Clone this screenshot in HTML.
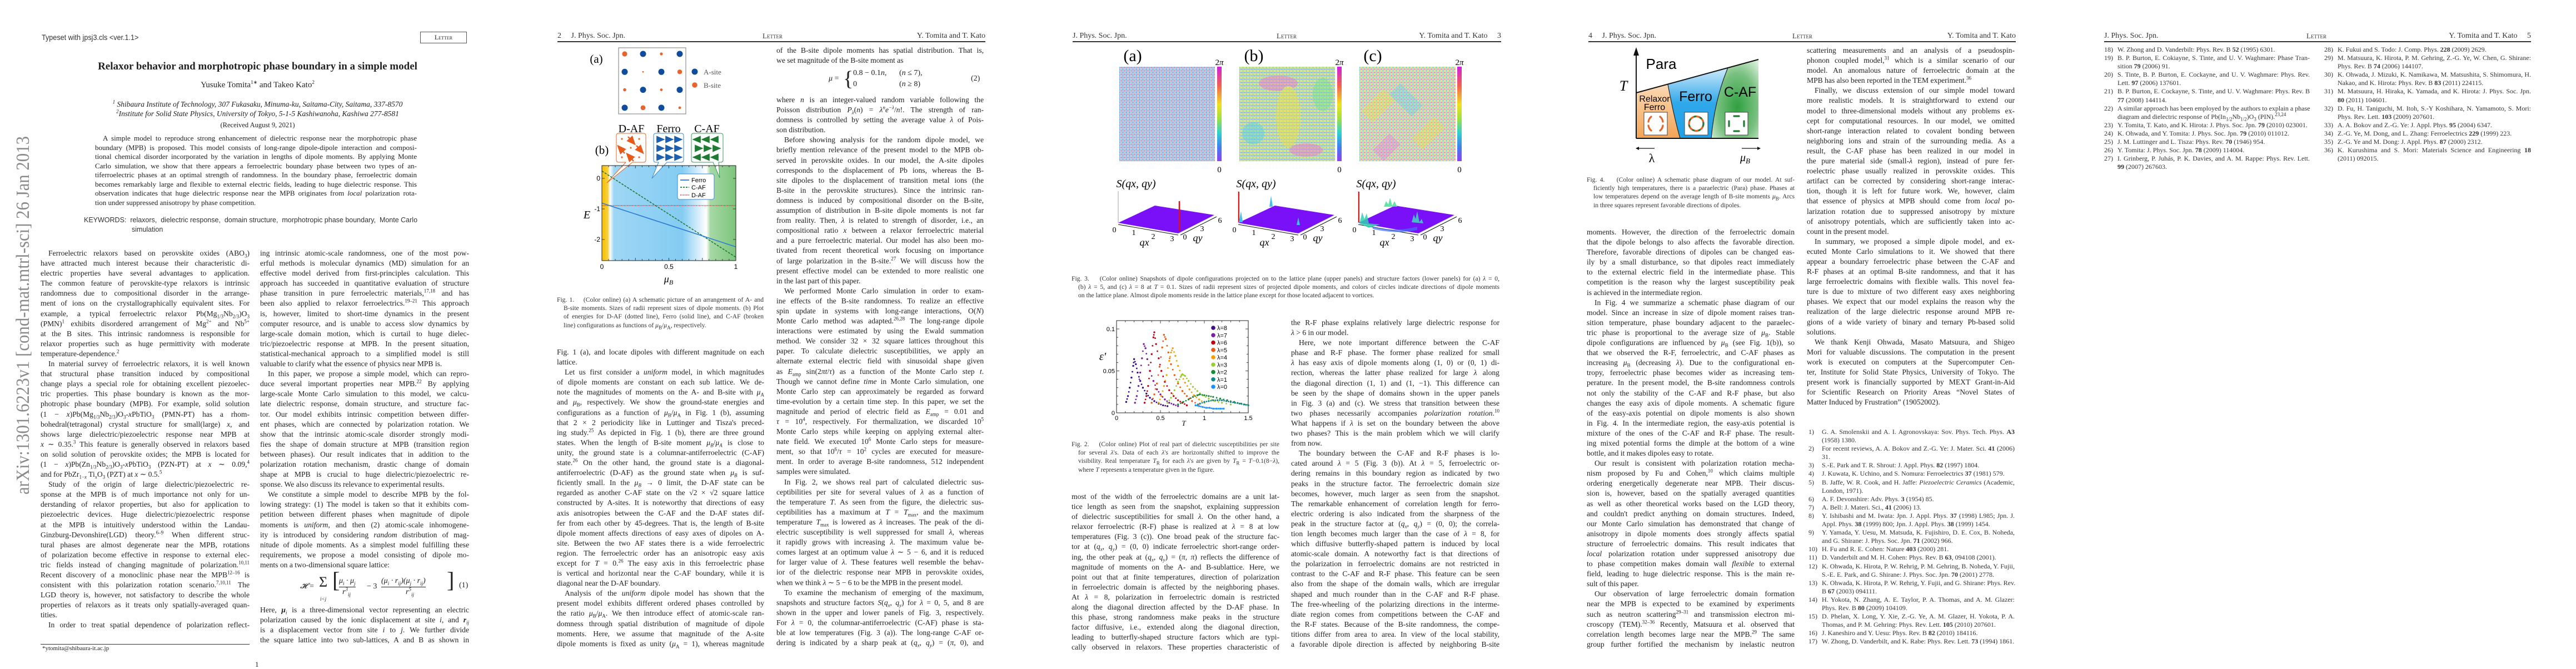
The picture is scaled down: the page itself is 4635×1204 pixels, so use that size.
<!DOCTYPE html>
<html><head><meta charset="utf-8">
<style>
html,body{margin:0;padding:0;background:#fff}
body{width:4635px;height:1200px;position:relative;overflow:hidden;font-family:"Liberation Serif",serif;color:#222}
.a{position:absolute;white-space:nowrap}
.col{position:absolute;font-family:"Liberation Serif",serif;font-size:13.6px;line-height:18.1px;color:#222}
.col>div{white-space:nowrap;text-align:justify;text-align-last:justify;height:18.1px}
.col>div.e{text-align-last:left}
.col>div.i{text-indent:14px}
.cap{position:absolute;font-family:"Liberation Serif",serif;font-size:11.6px;line-height:15.2px;color:#333}
.cap>div{white-space:nowrap;text-align:justify;text-align-last:justify;height:15.2px}
.cap>div.e{text-align-last:left}
.cap>div.h{padding-left:12px}
.ref{position:absolute;font-family:"Liberation Serif",serif;font-size:12px;line-height:15.1px;color:#333}
.ref>div{white-space:nowrap;position:relative;height:15.1px;text-align:justify;text-align-last:justify}
.ref>div.e{text-align-last:left}
.ref span.n{position:absolute;left:-24px;width:20px;text-align:right}
.hd{position:absolute;font-size:14px;top:57px;white-space:nowrap;color:#333}
.rule{position:absolute;height:1.5px;background:#333;top:74px}
sup,sub{font-size:9px;line-height:0}
b{font-weight:bold}
</style></head>
<body>

<svg class="a" style="left:0;top:0" width="80" height="1200">
<text x="0" y="0" transform="translate(52,890) rotate(-90)" textLength="645" lengthAdjust="spacingAndGlyphs" font-family="Liberation Serif" font-size="34" fill="#8a8a8a">arXiv:1301.6223v1  [cond-mat.mtrl-sci]  26 Jan 2013</text>
</svg>

<!-- PAGE 1 -->
<div class="a" style="left:75px;top:59px;font-family:'Liberation Sans',sans-serif;font-size:14px;color:#333;transform:scaleX(0.9);transform-origin:left">Typeset with jpsj3.cls &lt;ver.1.1&gt;</div>
<div class="a" style="left:756px;top:57px;width:82px;height:19px;border:1px solid #555;font-size:12px;text-align:center;line-height:19px;font-variant:small-caps">Letter</div>
<div class="a" style="left:0;width:927px;top:109px;text-align:center;font-weight:bold;font-size:19px">Relaxor behavior and morphotropic phase boundary in a simple model</div>
<div class="a" style="left:0;width:927px;top:145px;text-align:center;font-size:15px">Yusuke Tomita<sup>1</sup><sup>∗</sup> and Takeo Kato<sup>2</sup></div>
<div class="a" style="left:0;width:927px;top:180px;text-align:center;font-size:13.5px;font-style:italic"><sup>1</sup> Shibaura Institute of Technology, 307 Fukasaku, Minuma-ku, Saitama-City, Saitama, 337-8570</div>
<div class="a" style="left:0;width:927px;top:197px;text-align:center;font-size:13.5px;font-style:italic"><sup>2</sup>Institute for Solid State Physics, University of Tokyo, 5-1-5 Kashiwanoha, Kashiwa 277-8581</div>
<div class="a" style="left:0;width:927px;top:218px;text-align:center;font-size:12.5px">(Received August 9, 2021)</div>
<div class="col" style="left:171px;top:241px;width:579px;font-size:13px;line-height:16.5px">
<div class="i" style="height:16.5px">A simple model to reproduce strong enhancement of dielectric response near the morphotropic phase</div>
<div style="height:16.5px">boundary (MPB) is proposed. This model consists of long-range dipole-dipole interaction and composi-</div>
<div style="height:16.5px">tional chemical disorder incorporated by the variation in lengths of dipole moments. By applying Monte</div>
<div style="height:16.5px">Carlo simulation, we show that there appears a ferroelectric boundary phase between two types of an-</div>
<div style="height:16.5px">tiferroelectric phases at an optimal strength of randomness. In the boundary phase, ferroelectric domain</div>
<div style="height:16.5px">becomes remarkably large and flexible to external electric fields, leading to huge dielectric response. This</div>
<div style="height:16.5px">observation indicates that huge dielectric response near the MPB originates from <i>local</i> polarization rota-</div>
<div class="e" style="height:16.5px">tion under suppressed anisotropy by phase competition.</div>
</div>
<div class="a" style="left:151px;top:388px;font-family:'Liberation Sans',sans-serif;font-size:12.5px;color:#333;line-height:17px">KEYWORDS:&nbsp; relaxors,&nbsp; dielectric response,&nbsp; domain structure,&nbsp; morphotropic phase boundary,&nbsp; Monte Carlo<br><span style="padding-left:86px">simulation</span></div>

<div class="col" style="left:73px;top:447px;width:376px">
<div class="i">Ferroelectric relaxors based on perovskite oxides (ABO<sub>3</sub>)</div>
<div>have attracted much interest because their characteristic di-</div>
<div>electric properties have several advantages to application.</div>
<div>The common feature of perovskite-type relaxors is intrinsic</div>
<div>randomness due to compositional disorder in the arrange-</div>
<div>ment of ions on the crystallographically equivalent sites. For</div>
<div>example, a typical ferroelectric relaxor Pb(Mg<sub>1/3</sub>Nb<sub>2/3</sub>)O<sub>3</sub></div>
<div>(PMN)<sup>1</sup> exhibits disordered arrangement of Mg<sup>2+</sup> and Nb<sup>5+</sup></div>
<div>at the B sites. This intrinsic randomness is responsible for</div>
<div>relaxor properties such as huge permittivity with moderate</div>
<div class="e">temperature-dependence.<sup>2</sup></div>
<div class="i">In material survey of ferroelectric relaxors, it is well known</div>
<div>that structural phase transition induced by compositional</div>
<div>change plays a special role for obtaining excellent piezoelec-</div>
<div>tric properties. This phase boundary is known as the mor-</div>
<div>photropic phase boundary (MPB). For example, solid solution</div>
<div>(1 − <i>x</i>)Pb(Mg<sub>1/3</sub>Nb<sub>2/3</sub>)O<sub>3</sub>-<i>x</i>PbTiO<sub>3</sub> (PMN-PT) has a rhom-</div>
<div>bohedral(tetragonal) crystal structure for small(large) <i>x</i>, and</div>
<div>shows large dielectric/piezoelectric response near MPB at</div>
<div><i>x</i> ∼ 0.35.<sup>3</sup> This feature is generally observed in relaxors based</div>
<div>on solid solution of perovskite oxides; the MPB is located for</div>
<div>(1 − <i>x</i>)Pb(Zn<sub>1/3</sub>Nb<sub>2/3</sub>)O<sub>3</sub>-<i>x</i>PbTiO<sub>3</sub> (PZN-PT) at <i>x</i> ∼ 0.09,<sup>4</sup></div>
<div class="e">and for PbZr<sub>1−<i>x</i></sub> Ti<sub><i>x</i></sub>O<sub>3</sub> (PZT) at <i>x</i> ∼ 0.5.<sup>5</sup></div>
<div class="i">Study of the origin of large dielectric/piezoelectric re-</div>
<div>sponse at the MPB is of much importance not only for un-</div>
<div>derstanding of relaxor properties, but also for application to</div>
<div>piezoelectric devices. Huge dielectric/piezoelectric response</div>
<div>at the MPB is intuitively understood within the Landau-</div>
<div>Ginzburg-Devonshire(LGD) theory.<sup>6–9</sup> When different struc-</div>
<div>tural phases are almost degenerate near the MPB, rotations</div>
<div>of polarization become effective in response to external elec-</div>
<div>tric fields instead of changing magnitude of polarization.<sup>10,11</sup></div>
<div>Recent discovery of a monoclinic phase near the MPB<sup>12–16</sup> is</div>
<div>consistent with this polarization rotation scenario.<sup>7,10,11</sup> The</div>
<div>LGD theory is, however, not satisfactory to describe the whole</div>
<div>properties of relaxors as it treats only spatially-averaged quan-</div>
<div class="e">tities.</div>
<div class="i">In order to treat spatial dependence of polarization reflect-</div>
</div>
<div class="col" style="left:468px;top:447px;width:376px">
<div>ing intrinsic atomic-scale randomness, one of the most pow-</div>
<div>erful methods is molecular dynamics (MD) simulation for an</div>
<div>effective model derived from first-principles calculation. This</div>
<div>approach has succeeded in quantitative evaluation of structure</div>
<div>phase transition in pure ferroelectric materials,<sup>17,18</sup> and has</div>
<div>been also applied to relaxor ferroelectrics.<sup>19–21</sup> This approach</div>
<div>is, however, limited to short-time dynamics in the present</div>
<div>computer resource, and is unable to access slow dynamics by</div>
<div>large-scale domain motion, which is curtail to huge dielec-</div>
<div>tric/piezoelectric response at MPB. In the present situation,</div>
<div>statistical-mechanical approach to a simplified model is still</div>
<div class="e">valuable to clarify what the essence of physics near MPB is.</div>
<div class="i">In this paper, we propose a simple model, which can repro-</div>
<div>duce several important properties near MPB.<sup>22</sup> By applying</div>
<div>large-scale Monte Carlo simulation to this model, we calcu-</div>
<div>late dielectric response, domain structure, and structure fac-</div>
<div>tor. Our model exhibits intrinsic competition between differ-</div>
<div>ent phases, which are connected by polarization rotation. We</div>
<div>show that the intrinsic atomic-scale disorder strongly modi-</div>
<div>fies the shape of domain structure at MPB (transition region</div>
<div>between phases). Our result indicates that in addition to the</div>
<div>polarization rotation mechanism, drastic change of domain</div>
<div>shape at MPB is crucial to huge dielectric/piezoelectric re-</div>
<div class="e">sponse. We also discuss its relevance to experimental results.</div>
<div class="i">We constitute a simple model to describe MPB by the fol-</div>
<div>lowing strategy: (1) The model is taken so that it exhibits com-</div>
<div>petition between different phases when magnitude of dipole</div>
<div>moments is <i>uniform</i>, and then (2) atomic-scale inhomogene-</div>
<div>ity is introduced by considering <i>random</i> distribution of mag-</div>
<div>nitude of dipole moments. As a simplest model fulfilling these</div>
<div>requirements, we propose a model consisting of dipole mo-</div>
<div class="e">ments on a two-dimensional square lattice:</div>
</div>
<div class="a" style="left:540px;top:1036px;font-size:14px;font-style:italic;line-height:20px">
<span style="position:absolute;left:0;top:10px">𝓗 = </span>
<span style="position:absolute;left:34px;top:2px;font-size:26px;font-style:normal">Σ</span>
<span style="position:absolute;left:36px;top:32px;font-size:9px">i&lt;j</span>
<span style="position:absolute;left:58px;top:-2px;font-size:40px;font-style:normal;font-weight:100">[</span>
<span style="position:absolute;left:70px;top:0;border-bottom:1px solid #222">μ<sub>i</sub> · μ<sub>j</sub></span>
<span style="position:absolute;left:76px;top:20px">r<sup>3</sup><sub>ij</sub></span>
<span style="position:absolute;left:120px;top:10px;font-style:normal">− 3</span>
<span style="position:absolute;left:146px;top:0;border-bottom:1px solid #222">(μ<sub>i</sub> · r<sub>ij</sub>)(μ<sub>j</sub> · r<sub>ij</sub>)</span>
<span style="position:absolute;left:190px;top:20px">r<sup>5</sup><sub>ij</sub></span>
<span style="position:absolute;left:264px;top:-2px;font-size:40px;font-style:normal;font-weight:100">]</span>
</div>
<div class="a" style="left:826px;top:1046px;font-size:14px">(1)</div>
<div class="col" style="left:468px;top:1089px;width:376px">
<div>Here, <b><i>μ</i></b><sub><i>i</i></sub> is a three-dimensional vector representing an electric</div>
<div>polarization caused by the ionic displacement at site <i>i</i>, and <b><i>r</i></b><sub><i>ij</i></sub></div>
<div>is a displacement vector from site <i>i</i> to <i>j</i>. We further divide</div>
<div>the square lattice into two sub-lattices, A and B as shown in</div>
</div>
<div class="a" style="left:73px;top:1159px;width:376px;height:1px;background:#333"></div>
<div class="a" style="left:76px;top:1161px;font-size:11px">*ytomita@shibaura-it.ac.jp</div>
<div class="a" style="left:459px;top:1188px;font-size:13px">1</div>

<!-- PAGE 2 -->
<div class="hd" style="left:1003px">2&nbsp;&nbsp;&nbsp;&nbsp;&nbsp;J. Phys. Soc. Jpn.</div>
<div class="hd" style="left:1350px;width:80px;text-align:center;font-variant:small-caps;font-size:13px">Letter</div>
<div class="hd" style="left:1573px;width:200px;text-align:right">Y. Tomita and T. Kato</div>
<div class="rule" style="left:1003px;width:770px"></div>

<div class="col" style="left:1397px;top:82px;width:373px">
<div>of the B-site dipole moments has spatial distribution. That is,</div>
<div class="e">we set magnitude of the B-site moment as</div>
</div>
<div class="a" style="left:1491px;top:124px;font-size:14px;width:280px;height:40px">
<span style="position:absolute;left:0;top:10px"><i>μ</i> =</span>
<span style="position:absolute;left:26px;top:-4px;font-size:38px;font-weight:100">{</span>
<span style="position:absolute;left:44px;top:0">0.8 − 0.1<i>n</i>,</span>
<span style="position:absolute;left:127px;top:0">(<i>n</i> ≤ 7),</span>
<span style="position:absolute;left:44px;top:20px">0</span>
<span style="position:absolute;left:127px;top:20px">(<i>n</i> ≥ 8)</span>
<span style="position:absolute;left:256px;top:10px">(2)</span>
</div>
<div class="col" style="left:1397px;top:171px;width:373px">
<div>where <i>n</i> is an integer-valued random variable following the</div>
<div>Poisson distribution <i>P<sub>λ</sub></i>(<i>n</i>) = <i>λ<sup>n</sup>e<sup>−λ</sup></i>/<i>n</i>!. The strength of ran-</div>
<div>domness is controlled by setting the average value <i>λ</i> of Pois-</div>
<div class="e">son distribution.</div>
<div class="i">Before showing analysis for the random dipole model, we</div>
<div>briefly mention relevance of the present model to the MPB ob-</div>
<div>served in perovskite oxides. In our model, the A-site dipoles</div>
<div>corresponds to the displacement of Pb ions, whereas the B-</div>
<div>site dipoles to the displacement of transition metal ions (the</div>
<div>B-site in the perovskite structures). Since the intrinsic ran-</div>
<div>domness is induced by compositional disorder on the B-site,</div>
<div>assumption of distribution in B-site dipole moments is not far</div>
<div>from reality. Then, <i>λ</i> is related to strength of disorder, i.e., an</div>
<div>compositional ratio <i>x</i> between a relaxor ferroelectric material</div>
<div>and a pure ferroelectric material. Our model has also been mo-</div>
<div>tivated from recent theoretical work focusing on importance</div>
<div>of large polarization in the B-site.<sup>27</sup> We will discuss how the</div>
<div>present effective model can be extended to more realistic one</div>
<div class="e">in the last part of this paper.</div>
<div class="i">We performed Monte Carlo simulation in order to exam-</div>
<div>ine effects of the B-site randomness. To realize an effective</div>
<div>spin update in systems with long-range interactions, O(<i>N</i>)</div>
<div>Monte Carlo method was adapted.<sup>26,28</sup> The long-range dipole</div>
<div>interactions were estimated by using the Ewald summation</div>
<div>method. We consider 32 × 32 square lattices throughout this</div>
<div>paper. To calculate dielectric susceptibilities, we apply an</div>
<div>alternate external electric field with sinusoidal shape given</div>
<div>as <i>E</i><sub>amp</sub> sin(2<i>πt</i>/<i>τ</i>) as a function of the Monte Carlo step <i>t</i>.</div>
<div>Though we cannot define <i>time</i> in Monte Carlo simulation, one</div>
<div>Monte Carlo step can approximately be regarded as forward</div>
<div>time-evolution by a certain time step. In this paper, we set the</div>
<div>magnitude and period of electric field as <i>E</i><sub>amp</sub> = 0.01 and</div>
<div><i>τ</i> = 10<sup>4</sup>, respectively. For thermalization, we discarded 10<sup>5</sup></div>
<div>Monte Carlo steps while keeping on applying external alter-</div>
<div>nate field. We executed 10<sup>6</sup> Monte Carlo steps for measure-</div>
<div>ment, so that 10<sup>6</sup>/<i>τ</i> = 10<sup>2</sup> cycles are executed for measure-</div>
<div>ment. In order to average B-site randomness, 512 independent</div>
<div class="e">samples were simulated.</div>
<div class="i">In Fig. 2, we shows real part of calculated dielectric sus-</div>
<div>ceptibilities per site for several values of <i>λ</i> as a function of</div>
<div>the temperature <i>T</i>. As seen from the figure, the dielectric sus-</div>
<div>ceptibilities has a maximum at <i>T</i> = <i>T</i><sub>max</sub>, and the maximum</div>
<div>temperature <i>T</i><sub>max</sub> is lowered as <i>λ</i> increases. The peak of the di-</div>
<div>electric susceptibility is well suppressed for small <i>λ</i>, whereas</div>
<div>it rapidly grows with increasing <i>λ</i>. The maximum value be-</div>
<div>comes largest at an optimum value <i>λ</i> ∼ 5 − 6, and it is reduced</div>
<div>for larger value of <i>λ</i>. These features well resemble the behav-</div>
<div>ior of the dielectric response near MPB in perovskite oxides,</div>
<div class="e">when we think <i>λ</i> ∼ 5 − 6 to be the MPB in the present model.</div>
<div class="i">To examine the mechanism of emerging of the maximum,</div>
<div>snapshots and structure factors <i>S</i>(<i>q<sub>x</sub></i>, <i>q<sub>y</sub></i>) for <i>λ</i> = 0, 5, and 8 are</div>
<div>shown in the upper and lower panels of Fig. 3, respectively.</div>
<div>For <i>λ</i> = 0, the columnar-antiferroelectric (C-AF) phase is sta-</div>
<div>ble at low temperatures (Fig. 3 (a)). The long-range C-AF or-</div>
<div>dering is indicated by a sharp peak at (<i>q<sub>x</sub></i>, <i>q<sub>y</sub></i>) = (<i>π</i>, 0), and</div>
</div>

<div class="cap" style="left:1002px;top:532px;width:372px">
<div>Fig. 1.&nbsp;&nbsp;&nbsp; (Color online) (a) A schematic picture of an arrangement of A- and</div>
<div class="h">B-site moments. Sizes of radii represent sizes of dipole moments. (b) Plot</div>
<div class="h">of energies for D-AF (dotted line), Ferro (solid line), and C-AF (broken</div>
<div class="h e">line) configurations as functions of <i>μ</i><sub>B</sub>/<i>μ</i><sub>A</sub>, respectively.</div>
</div>
<div class="col" style="left:1002px;top:625px;width:373px">
<div>Fig. 1 (a), and locate dipoles with different magnitude on each</div>
<div class="e">lattice.</div>
<div class="i">Let us first consider a <i>uniform</i> model, in which magnitudes</div>
<div>of dipole moments are constant on each sub lattice. We de-</div>
<div>note the magnitudes of moments on the A- and B-site with <i>μ</i><sub>A</sub></div>
<div>and <i>μ</i><sub>B</sub>, respectively. We show the ground-state energies and</div>
<div>configurations as a function of <i>μ</i><sub>B</sub>/<i>μ</i><sub>A</sub> in Fig. 1 (b), assuming</div>
<div>that 2 × 2 periodicity like in Luttinger and Tisza's preced-</div>
<div>ing study.<sup>25</sup> As depicted in Fig. 1 (b), there are three ground</div>
<div>states. When the length of B-site moment <i>μ<sub>B</sub></i>/<i>μ<sub>A</sub></i> is close to</div>
<div>unity, the ground state is a columnar-antiferroelectric (C-AF)</div>
<div>state.<sup>26</sup> On the other hand, the ground state is a diagonal-</div>
<div>antiferroelectric (D-AF) as the ground state when <i>μ<sub>B</sub></i> is suf-</div>
<div>ficiently small. In the <i>μ<sub>B</sub></i> → 0 limit, the D-AF state can be</div>
<div>regarded as another C-AF state on the √2 × √2 square lattice</div>
<div>constructed by A-sites. It is noteworthy that directions of easy</div>
<div>axis anisotropies between the C-AF and the D-AF states dif-</div>
<div>fer from each other by 45-degrees. That is, the length of B-site</div>
<div>dipole moment affects directions of easy axes of dipoles on A-</div>
<div>site. Between the two AF states there is a wide ferroelectric</div>
<div>region. The ferroelectric order has an anisotropic easy axis</div>
<div>except for <i>T</i> = 0.<sup>26</sup> The easy axis in this ferroelectric phase</div>
<div>is vertical and horizontal near the C-AF boundary, while it is</div>
<div class="e">diagonal near the D-AF boundary.</div>
<div class="i">Analysis of the <i>uniform</i> dipole model has shown that the</div>
<div>present model exhibits different ordered phases controlled by</div>
<div>the ratio <i>μ</i><sub>B</sub>/<i>μ</i><sub>A</sub>. We then introduce effect of atomic-scale ran-</div>
<div>domness through spatial distribution of magnitude of dipole</div>
<div>moments. Here, we assume that magnitude of the A-site</div>
<div>dipole moments is fixed as unity (<i>μ</i><sub>A</sub> = 1), whereas magnitude</div>
</div>

<!-- PAGE 3 -->
<div class="hd" style="left:1930px">J. Phys. Soc. Jpn.</div>
<div class="hd" style="left:2275px;width:80px;text-align:center;font-variant:small-caps;font-size:13px">Letter</div>
<div class="hd" style="left:2469px;width:232px;text-align:right">Y. Tomita and T. Kato&nbsp;&nbsp;&nbsp;&nbsp;&nbsp;3</div>
<div class="rule" style="left:1930px;width:771px"></div>

<div class="cap" style="left:1928px;top:494px;width:770px">
<div>Fig. 3.&nbsp;&nbsp;&nbsp; (Color online) Snapshots of dipole configurations projected on to the lattice plane (upper panels) and structure factors (lower panels) for (a) <i>λ</i> = 0,</div>
<div class="h">(b) <i>λ</i> = 5, and (c) <i>λ</i> = 8 at <i>T</i> = 0.1. Sizes of radii represent sizes of projected dipole moments, and colors of circles indicate directions of dipole moments</div>
<div class="h e">on the lattice plane. Almost dipole moments reside in the lattice plane except for those located adjacent to vortices.</div>
</div>
<div class="cap" style="left:1928px;top:792px;width:374px">
<div>Fig. 2.&nbsp;&nbsp;&nbsp; (Color online) Plot of real part of dielectric susceptibilities per site</div>
<div class="h">for several <i>λ</i>'s. Data of each <i>λ</i>'s are horizontally shifted to improve the</div>
<div class="h">visibility. Real temperature <i>T</i><sub>R</sub> for each <i>λ</i>'s are given by <i>T</i><sub>R</sub> = <i>T</i>−0.1(8−<i>λ</i>),</div>
<div class="h e">where <i>T</i> represents a temperature given in the figure.</div>
</div>
<div class="col" style="left:1928px;top:885px;width:374px">
<div>most of the width of the ferroelectric domains are a unit lat-</div>
<div>tice length as seen from the snapshot, explaining suppression</div>
<div>of dielectric susceptibilities for small <i>λ</i>. On the other hand, a</div>
<div>relaxor ferroelectric (R-F) phase is realized at <i>λ</i> = 8 at low</div>
<div>temperatures (Fig. 3 (c)). One broad peak of the structure fac-</div>
<div>tor at (<i>q<sub>x</sub></i>, <i>q<sub>y</sub></i>) = (0, 0) indicate ferroelectric short-range order-</div>
<div>ing, the other peak at (<i>q<sub>x</sub></i>, <i>q<sub>y</sub></i>) = (<i>π</i>, <i>π</i>) reflects the difference of</div>
<div>magnitude of moments on the A- and B-sublattice. Here, we</div>
<div>point out that at finite temperatures, direction of polarization</div>
<div>in ferroelectric domain is affected by the neighboring phases.</div>
<div>At <i>λ</i> = 8, polarization in ferroelectric domain is restricted</div>
<div>along the diagonal direction affected by the D-AF phase. In</div>
<div>this phase, strong randomness make peaks in the structure</div>
<div>factor diffusive, i.e., extended along the diagonal direction,</div>
<div>leading to butterfly-shaped structure factors which are typi-</div>
<div>cally observed in relaxors. These properties characteristic of</div>
</div>
<div class="col" style="left:2323px;top:572px;width:375px">
<div>the R-F phase explains relatively large dielectric response for</div>
<div class="e"><i>λ</i> &gt; 6 in our model.</div>
<div class="i">Here, we note important difference between the C-AF</div>
<div>phase and R-F phase. The former phase realized for small</div>
<div><i>λ</i> has easy axis of dipole moments along (1, 0) or (0, 1) di-</div>
<div>rection, whereas the latter phase realized for large <i>λ</i> along</div>
<div>the diagonal direction (1, 1) and (1, −1). This difference can</div>
<div>be seen by the shape of domains shown in the upper panels</div>
<div>in Fig. 3 (a) and (c). We stress that transition between these</div>
<div>two phases necessarily accompanies <i>polarization rotation</i>.<sup>10</sup></div>
<div>What happens if <i>λ</i> is set on the boundary between the above</div>
<div>two phases? This is the main problem which we will clarify</div>
<div class="e">from now.</div>
<div class="i">The boundary between the C-AF and R-F phases is lo-</div>
<div>cated around <i>λ</i> = 5 (Fig. 3 (b)). At <i>λ</i> = 5, ferroelectric or-</div>
<div>dering remains in this boundary region as indicated by two</div>
<div>peaks in the structure factor. The ferroelectric domain size</div>
<div>becomes, however, much larger as seen from the snapshot.</div>
<div>The remarkable enhancement of correlation length for ferro-</div>
<div>electric ordering is also indicated from the sharpness of the</div>
<div>peak in the structure factor at (<i>q<sub>x</sub></i>, <i>q<sub>y</sub></i>) = (0, 0); the correla-</div>
<div>tion length becomes much larger than the case of <i>λ</i> = 8, for</div>
<div>which diffusive butterfly-shaped pattern is induced by local</div>
<div>atomic-scale domain. A noteworthy fact is that directions of</div>
<div>the polarization in ferroelectric domains are not restricted in</div>
<div>contrast to the C-AF and R-F phase. This feature can be seen</div>
<div>also from the shape of the domain walls, which are irregular</div>
<div>shaped and much rounder than in the C-AF and R-F phase.</div>
<div>The free-wheeling of the polarizing directions in the interme-</div>
<div>diate region comes from competitions between the C-AF and</div>
<div>the R-F states. Because of the B-site randomness, the compe-</div>
<div>titions differ from area to area. In view of the local stability,</div>
<div>a favorable dipole direction is affected by neighboring B-site</div>
</div>

<!-- PAGE 4 -->
<div class="hd" style="left:2858px">4&nbsp;&nbsp;&nbsp;&nbsp;&nbsp;J. Phys. Soc. Jpn.</div>
<div class="hd" style="left:3203px;width:80px;text-align:center;font-variant:small-caps;font-size:13px">Letter</div>
<div class="hd" style="left:3427px;width:200px;text-align:right">Y. Tomita and T. Kato</div>
<div class="rule" style="left:2858px;width:769px"></div>

<div class="cap" style="left:2855px;top:316px;width:374px">
<div>Fig. 4.&nbsp;&nbsp;&nbsp; (Color online) A schematic phase diagram of our model. At suf-</div>
<div class="h">ficiently high temperatures, there is a paraelectric (Para) phase. Phases at</div>
<div class="h">low temperatures depend on the average length of B-site moments <i>μ</i><sub>B</sub>. Arcs</div>
<div class="h e">in three squares represent favorable directions of dipoles.</div>
</div>
<div class="col" style="left:2855px;top:409px;width:374px">
<div>moments. However, the direction of the ferroelectric domain</div>
<div>that the dipole belongs to also affects the favorable direction.</div>
<div>Therefore, favorable directions of dipoles can be changed eas-</div>
<div>ily by a small disturbance, so that dipoles react immediately</div>
<div>to the external electric field in the intermediate phase. This</div>
<div>competition is the reason why the largest susceptibility peak</div>
<div class="e">is achieved in the intermediate region.</div>
<div class="i">In Fig. 4 we summarize a schematic phase diagram of our</div>
<div>model. Since an increase in size of dipole moment raises tran-</div>
<div>sition temperature, phase boundary adjacent to the paraelec-</div>
<div>tric phase is proportional to the average size of <i>μ</i><sub>B</sub>. Stable</div>
<div>dipole configurations are influenced by <i>μ</i><sub>B</sub> (see Fig. 1(b)), so</div>
<div>that we observed the R-F, ferroelectric, and C-AF phases as</div>
<div>increasing <i>μ</i><sub>B</sub> (decreasing <i>λ</i>). Due to the configurational en-</div>
<div>tropy, ferroelectric phase becomes wider as increasing tem-</div>
<div>perature. In the present model, the B-site randomness controls</div>
<div>not only the stability of the C-AF and R-F phase, but also</div>
<div>changes the easy axis of dipole moments. A schematic figure</div>
<div>of the easy-axis potential on dipole moments is also shown</div>
<div>in Fig. 4. In the intermediate region, the easy-axis potential is</div>
<div>mixture of the ones of the C-AF and R-F phase. The result-</div>
<div>ing mixed potential forms the dimple at the bottom of a wine</div>
<div class="e">bottle, and it makes dipoles easy to rotate.</div>
<div class="i">Our result is consistent with polarization rotation mecha-</div>
<div>nism proposed by Fu and Cohen,<sup>10</sup> which claims multiple</div>
<div>ordering energetically degenerate near MPB. Their discus-</div>
<div>sion is, however, based on the spatially averaged quantities</div>
<div>as well as other theoretical works based on the LGD theory,</div>
<div>and couldn't predict anything on domain structures. Indeed,</div>
<div>our Monte Carlo simulation has demonstrated that change of</div>
<div>anisotropy in dipole moments does strongly affects spatial</div>
<div>structure of ferroelectric domains. This result indicates that</div>
<div><i>local</i> polarization rotation under suppressed anisotropy due</div>
<div>to phase competition makes domain wall <i>flexible</i> to external</div>
<div>field, leading to huge dielectric response. This is the main re-</div>
<div class="e">sult of this paper.</div>
<div class="i">Our observation of large ferroelectric domain formation</div>
<div>near the MPB is expected to be examined by experiments</div>
<div>such as neutron scattering<sup>29–31</sup> and transmission electron mi-</div>
<div>croscopy (TEM).<sup>32–36</sup> Recently, Matsuura et al. observed that</div>
<div>correlation length becomes large near the MPB.<sup>29</sup> The same</div>
<div>group further fortified the mechanism by inelastic neutron</div>
</div>
<div class="col" style="left:3251px;top:82px;width:374px">
<div>scattering measurements and an analysis of a pseudospin-</div>
<div>phonon coupled model,<sup>31</sup> which is a similar scenario of our</div>
<div>model. An anomalous nature of ferroelectric domain at the</div>
<div class="e">MPB has also been reported in the TEM experiment.<sup>36</sup></div>
<div class="i">Finally, we discuss extension of our simple model toward</div>
<div>more realistic models. It is straightforward to extend our</div>
<div>model to three-dimensional models without any problems ex-</div>
<div>cept for computational resources. In our model, we omitted</div>
<div>short-range interaction related to covalent bonding between</div>
<div>neighboring ions and strain of the surrounding media. As a</div>
<div>result, the C-AF phase has been realized in our model in</div>
<div>the pure material side (small-<i>λ</i> region), instead of pure fer-</div>
<div>roelectric phase usually realized in perovskite oxides. This</div>
<div>artifact can be corrected by considering short-range interac-</div>
<div>tion, though it is left for future work. We, however, claim</div>
<div>that essence of physics at MPB should come from <i>local</i> po-</div>
<div>larization rotation due to suppressed anisotropy by mixture</div>
<div>of anisotropy potentials, which are sufficiently taken into ac-</div>
<div class="e">count in the present model.</div>
<div class="i">In summary, we proposed a simple dipole model, and ex-</div>
<div>ecuted Monte Carlo simulations to it. We showed that there</div>
<div>appear a boundary ferroelectric phase between the C-AF and</div>
<div>R-F phases at an optimal B-site randomness, and that it has</div>
<div>large ferroelectric domains with flexible walls. This novel fea-</div>
<div>ture is due to mixture of two different easy axes neighboring</div>
<div>phases. We expect that our model explains the reason why the</div>
<div>realization of the large dielectric response around MPB re-</div>
<div>gions of a wide variety of binary and ternary Pb-based solid</div>
<div class="e">solutions.</div>
<div class="i">We thank Kenji Ohwada, Masato Matsuura, and Shigeo</div>
<div>Mori for valuable discussions. The computation in the present</div>
<div>work is executed on computers at the Supercomputer Cen-</div>
<div>ter, Institute for Solid State Physics, University of Tokyo. The</div>
<div>present work is financially supported by MEXT Grant-in-Aid</div>
<div>for Scientific Research on Priority Areas “Novel States of</div>
<div class="e">Matter Induced by Frustration” (19052002).</div>
</div>
<div class="ref" style="left:3278px;top:770px;width:347px">
<div><span class="n">1)</span>G. A. Smolenskii and A. I. Agronovskaya: Sov. Phys. Tech. Phys. <b>A3</b></div>
<div class="e">(1958) 1380.</div>
<div><span class="n">2)</span>For recent reviews, A. A. Bokov and Z.-G. Ye: J. Mater. Sci. <b>41</b> (2006)</div>
<div class="e">31.</div>
<div class="e"><span class="n">3)</span>S.-E. Park and T. R. Shrout: J. Appl. Phys. <b>82</b> (1997) 1804.</div>
<div class="e"><span class="n">4)</span>J. Kuwata, K. Uchino, and S. Nomura: Ferroelectrics <b>37</b> (1981) 579.</div>
<div><span class="n">5)</span>B. Jaffe, W. R. Cook, and H. Jaffe: <i>Piezoelectric Ceramics</i> (Academic,</div>
<div class="e">London, 1971).</div>
<div class="e"><span class="n">6)</span>A. F. Devonshire: Adv. Phys. <b>3</b> (1954) 85.</div>
<div class="e"><span class="n">7)</span>A. Bell: J. Materi. Sci., <b>41</b> (2006) 13.</div>
<div><span class="n">8)</span>Y. Ishibashi and M. Iwata: Jpn. J. Appl. Phys. <b>37</b> (1998) L985; Jpn. J.</div>
<div class="e">Appl. Phys. <b>38</b> (1999) 800; Jpn. J. Appl. Phys. <b>38</b> (1999) 1454.</div>
<div><span class="n">9)</span>Y. Yamada, Y. Uesu, M. Matsuda, K. Fujishiro, D. E. Cox, B. Noheda,</div>
<div class="e">and G. Shirane: J. Phys. Soc. Jpn. <b>71</b> (2002) 966.</div>
<div class="e"><span class="n">10)</span>H. Fu and R. E. Cohen: Nature <b>403</b> (2000) 281.</div>
<div class="e"><span class="n">11)</span>D. Vanderbilt and M. H. Cohen: Phys. Rev. B <b>63</b>, 094108 (2001).</div>
<div><span class="n">12)</span>K. Ohwada, K. Hirota, P. W. Rehrig, P. M. Gehring, B. Noheda, Y. Fujii,</div>
<div class="e">S.-E. E. Park, and G. Shirane: J. Phys. Soc. Jpn. <b>70</b> (2001) 2778.</div>
<div><span class="n">13)</span>K. Ohwada, K. Hirota, P. W. Rehrig, Y. Fujii, and G. Shirane: Phys. Rev.</div>
<div class="e">B <b>67</b> (2003) 094111.</div>
<div><span class="n">14)</span>H. Yokota, N. Zhang, A. E. Taylor, P. A. Thomas, and A. M. Glazer:</div>
<div class="e">Phys. Rev. B <b>80</b> (2009) 104109.</div>
<div><span class="n">15)</span>D. Phelan, X. Long, Y. Xie, Z.-G. Ye, A. M. Glazer, H. Yokota, P. A.</div>
<div class="e">Thomas, and P. M. Gehring: Phys. Rev. Lett. <b>105</b> (2010) 207601.</div>
<div class="e"><span class="n">16)</span>J. Kaneshiro and Y. Uesu: Phys. Rev. B <b>82</b> (2010) 184116.</div>
<div class="e"><span class="n">17)</span>W. Zhong, D. Vanderbilt, and K. Rabe: Phys. Rev. Lett. <b>73</b> (1994) 1861.</div>
</div>

<!-- PAGE 5 -->
<div class="hd" style="left:3786px">J. Phys. Soc. Jpn.</div>
<div class="hd" style="left:4128px;width:80px;text-align:center;font-variant:small-caps;font-size:13px">Letter</div>
<div class="hd" style="left:4322px;width:232px;text-align:right">Y. Tomita and T. Kato&nbsp;&nbsp;&nbsp;&nbsp;&nbsp;5</div>
<div class="rule" style="left:3786px;width:768px"></div>
<div class="ref" style="left:3810px;top:82px;width:346px">
<div class="e"><span class="n">18)</span>W. Zhong and D. Vanderbilt: Phys. Rev. B <b>52</b> (1995) 6301.</div>
<div><span class="n">19)</span>B. P. Burton, E. Cokiayne, S. Tinte, and U. V. Waghmare: Phase Tran-</div>
<div class="e">sition <b>79</b> (2006) 91.</div>
<div><span class="n">20)</span>S. Tinte, B. P. Burton, E. Cockayne, and U. V. Waghmare: Phys. Rev.</div>
<div class="e">Lett. <b>97</b> (2006) 137601.</div>
<div><span class="n">21)</span>B. P. Burton, E. Cockayne, S. Tinte, and U. V. Waghmare: Phys. Rev. B</div>
<div class="e"><b>77</b> (2008) 144114.</div>
<div><span class="n">22)</span>A similar approach has been employed by the authors to explain a phase</div>
<div class="e">diagram and dielectric response of Pb(In<sub>1/2</sub>Nb<sub>1/2</sub>)O<sub>3</sub> (PIN).<sup>23,24</sup></div>
<div class="e"><span class="n">23)</span>Y. Tomita, T. Kato, and K. Hirota: J. Phys. Soc. Jpn. <b>79</b> (2010) 023001.</div>
<div class="e"><span class="n">24)</span>K. Ohwada, and Y. Tomita: J. Phys. Soc. Jpn. <b>79</b> (2010) 011012.</div>
<div class="e"><span class="n">25)</span>J. M. Luttinger and L. Tisza: Phys. Rev. <b>70</b> (1946) 954.</div>
<div class="e"><span class="n">26)</span>Y. Tomita: J. Phys. Soc. Jpn. <b>78</b> (2009) 114004.</div>
<div><span class="n">27)</span>I. Grinberg, P. Juhás, P. K. Davies, and A. M. Rappe: Phys. Rev. Lett.</div>
<div class="e"><b>99</b> (2007) 267603.</div>
</div>
<div class="ref" style="left:4206px;top:82px;width:348px">
<div class="e"><span class="n">28)</span>K. Fukui and S. Todo: J. Comp. Phys. <b>228</b> (2009) 2629.</div>
<div><span class="n">29)</span>M. Matsuura, K. Hirota, P. M. Gehring, Z.-G. Ye, W. Chen, G. Shirane:</div>
<div class="e">Phys. Rev. B <b>74</b> (2006) 144107.</div>
<div><span class="n">30)</span>K. Ohwada, J. Mizuki, K. Namikawa, M. Matsushita, S. Shimomura, H.</div>
<div class="e">Nakao, and K. Hirota: Phys. Rev. B <b>83</b> (2011) 224115.</div>
<div><span class="n">31)</span>M. Matsuura, H. Hiraka, K. Yamada, and K. Hirota: J. Phys. Soc. Jpn.</div>
<div class="e"><b>80</b> (2011) 104601.</div>
<div><span class="n">32)</span>D. Fu, H. Taniguchi, M. Itoh, S.-Y Koshihara, N. Yamamoto, S. Mori:</div>
<div class="e">Phys. Rev. Lett. <b>103</b> (2009) 207601.</div>
<div class="e"><span class="n">33)</span>A. A. Bokov and Z.-G. Ye: J. Appl. Phys. <b>95</b> (2004) 6347.</div>
<div class="e"><span class="n">34)</span>Z.-G. Ye, M. Dong, and L. Zhang: Ferroelectrics <b>229</b> (1999) 223.</div>
<div class="e"><span class="n">35)</span>Z.-G. Ye and M. Dong: J. Appl. Phys. <b>87</b> (2000) 2312.</div>
<div><span class="n">36)</span>K. Kurushima and S. Mori: Materials Science and Engineering <b>18</b></div>
<div class="e">(2011) 092015.</div>
</div>

<!-- GRAPHICS OVERLAY -->
<svg id="gfx" class="a" style="left:0;top:0" width="4635" height="1200" font-family="Liberation Sans, sans-serif">
<defs>
<pattern id="pa" width="6" height="6" patternUnits="userSpaceOnUse"><rect width="6" height="6" fill="#f2eef2"/><circle cx="1.5" cy="1.5" r="1.3" fill="#e060c8"/><circle cx="4.5" cy="1.5" r="1.3" fill="#40c8d8"/><circle cx="1.5" cy="4.5" r="1.3" fill="#70d8c8"/><circle cx="4.5" cy="4.5" r="1.3" fill="#b070e0"/></pattern>
<pattern id="pb" width="6" height="6" patternUnits="userSpaceOnUse"><rect width="6" height="6" fill="#f4f4ea"/><circle cx="1.5" cy="1.5" r="1.4" fill="#e0e040"/><circle cx="4.5" cy="1.5" r="1.4" fill="#80e080"/><circle cx="1.5" cy="4.5" r="1.4" fill="#50c8e8"/><circle cx="4.5" cy="4.5" r="1.4" fill="#f080d8"/></pattern>
<pattern id="pc" width="6" height="6" patternUnits="userSpaceOnUse"><rect width="6" height="6" fill="#f6f4ee"/><circle cx="1.5" cy="1.5" r="1.4" fill="#f0e040"/><circle cx="4.5" cy="1.5" r="1.4" fill="#60d0f0"/><circle cx="1.5" cy="4.5" r="1.4" fill="#e878e0"/><circle cx="4.5" cy="4.5" r="1.4" fill="#a8e060"/></pattern>
<linearGradient id="cbar" x1="0" y1="0" x2="0" y2="1"><stop offset="0" stop-color="#d020e0"/><stop offset="0.2" stop-color="#f06050"/><stop offset="0.4" stop-color="#f0e020"/><stop offset="0.55" stop-color="#a0e040"/><stop offset="0.7" stop-color="#30d0d0"/><stop offset="0.85" stop-color="#4080f0"/><stop offset="1" stop-color="#9040f0"/></linearGradient>
<linearGradient id="bgE" x1="0" y1="0" x2="1" y2="0"><stop offset="0" stop-color="#f5c000"/><stop offset="0.045" stop-color="#f8d040"/><stop offset="0.06" stop-color="#ffffff"/><stop offset="0.09" stop-color="#9ed6f6"/><stop offset="0.6" stop-color="#84ccf2"/><stop offset="0.78" stop-color="#ffffff"/><stop offset="0.81" stop-color="#a6d8a6"/><stop offset="1" stop-color="#7cc47c"/></linearGradient>
<linearGradient id="gOr" x1="0" y1="0" x2="0" y2="1"><stop offset="0" stop-color="#fbd9b4"/><stop offset="1" stop-color="#f3a456"/></linearGradient>
<linearGradient id="gBl" x1="0" y1="0" x2="0" y2="1"><stop offset="0" stop-color="#cfeafa"/><stop offset="0.5" stop-color="#30a8ea"/><stop offset="1" stop-color="#20a0e8"/></linearGradient>
<radialGradient id="gGr" cx="0.55" cy="0.6" r="0.7"><stop offset="0" stop-color="#30a040"/><stop offset="0.6" stop-color="#78c080"/><stop offset="1" stop-color="#d8f0d8"/></radialGradient>
<marker id="arrB" markerWidth="8" markerHeight="8" refX="4" refY="4" orient="auto"><path d="M0,1 L7,4 L0,7 Z" fill="#1a5fb0"/></marker>
<marker id="arrG" markerWidth="8" markerHeight="8" refX="4" refY="4" orient="auto"><path d="M0,1 L7,4 L0,7 Z" fill="#1f7a32"/></marker>
<marker id="arrR" markerWidth="8" markerHeight="8" refX="4" refY="4" orient="auto"><path d="M0,1 L7,4 L0,7 Z" fill="#e85a1a"/></marker>
</defs>

<!-- Fig 1(a) -->
<g>
<text x="1073" y="113" font-family="Liberation Serif" font-size="21" text-anchor="middle">(a)</text>
<rect x="1113" y="86" width="121" height="119" fill="none" stroke="#777" stroke-width="1"/>
<g id="lattice"></g>
<circle cx="1250" cy="129" r="5.5" fill="#0f4c9c"/><text x="1266" y="134" font-family="Liberation Serif" font-size="13" fill="#555">A-site</text>
<circle cx="1250" cy="153" r="4.8" fill="#e8642a"/><text x="1266" y="158" font-family="Liberation Serif" font-size="13" fill="#555">B-site</text>
</g>

<!-- Fig 1(b) -->
<g id="fig1b">
<text x="1083" y="277" font-family="Liberation Serif" font-size="21" text-anchor="middle">(b)</text>
<rect x="1083" y="298" width="241" height="171" fill="url(#bgE)"/>
<text x="1136" y="238" font-family="Liberation Serif" font-size="20" text-anchor="middle">D-AF</text>
<text x="1203" y="238" font-family="Liberation Serif" font-size="20" text-anchor="middle">Ferro</text>
<text x="1272" y="238" font-family="Liberation Serif" font-size="20" text-anchor="middle">C-AF</text>
<path d="M1109,244 q0,-4 4,-4 h45 q4,0 4,4 v44 q0,4 -4,4 h-20 l-46,37 l34,-37 h-13 q-4,0 -4,-4 z" fill="#fff" stroke="#e8642a" stroke-width="1"/>
<path d="M1176,244 q0,-4 4,-4 h46 q4,0 4,4 v44 q0,4 -4,4 h-26 l-27,29 l12,-29 h-5 q-4,0 -4,-4 z" fill="#fff" stroke="#3a8ad6" stroke-width="1"/>
<path d="M1244,244 q0,-4 4,-4 h49 q4,0 4,4 v44 q0,4 -4,4 h-4 l2,28 l-12,-28 h-35 q-4,0 -4,-4 z" fill="#fff" stroke="#3a9a58" stroke-width="1"/>
<g fill="#e8642a"><circle cx="1119" cy="250" r="1.6"/><circle cx="1150" cy="250" r="1.6"/><circle cx="1135" cy="266" r="1.6"/><circle cx="1119" cy="283" r="1.6"/><circle cx="1150" cy="283" r="1.6"/></g>
<g stroke="#e85a1a" stroke-width="2.4"><line x1="1130" y1="246" x2="1139" y2="256" marker-end="url(#arrR)"/><line x1="1145" y1="262" x2="1154" y2="272" marker-end="url(#arrR)"/><line x1="1124" y1="276" x2="1115" y2="266" marker-end="url(#arrR)"/><line x1="1140" y1="290" x2="1131" y2="280" marker-end="url(#arrR)"/></g>
<g id="ferroArrows" stroke="#1a5fb0" stroke-width="2.2"></g>
<g id="cafArrows" stroke="#1f7a32" stroke-width="2.2"></g>
<g id="f1plot"></g>
<rect x="1083" y="298" width="241" height="171" fill="none" stroke="#222" stroke-width="1"/>
<rect x="1219" y="313" width="66" height="46" rx="4" fill="#fff" stroke="#3a8ad6" stroke-width="1"/>
<line x1="1224" y1="324" x2="1240" y2="324" stroke="#2a7ad8" stroke-width="1.8"/><text x="1244" y="328" font-size="11">Ferro</text>
<line x1="1224" y1="337" x2="1240" y2="337" stroke="#1f7a32" stroke-width="1.8" stroke-dasharray="3,2"/><text x="1244" y="341" font-size="11">C-AF</text>
<line x1="1224" y1="351" x2="1240" y2="351" stroke="#d02020" stroke-width="1.8" stroke-dasharray="1,1.5"/><text x="1244" y="355" font-size="11">D-AF</text>
<text x="1056" y="393" font-family="Liberation Serif" font-size="20" font-style="italic" text-anchor="middle">E</text>
<text x="1203" y="508" font-family="Liberation Serif" font-size="18" font-style="italic" text-anchor="middle">μ<tspan font-size="12" dy="4">B</tspan></text>
</g>

<!-- Fig 3 -->
<g>
<text x="2038" y="110" font-family="Liberation Serif" font-size="30" text-anchor="middle">(a)</text>
<text x="2256" y="110" font-family="Liberation Serif" font-size="30" text-anchor="middle">(b)</text>
<text x="2470" y="110" font-family="Liberation Serif" font-size="30" text-anchor="middle">(c)</text>
<rect x="2014" y="120" width="172" height="170" fill="url(#pa)"/>
<rect x="2230" y="120" width="172" height="170" fill="url(#pb)"/>
<g opacity="0.45"><ellipse cx="2300" cy="150" rx="35" ry="14" fill="#f070d0"/><ellipse cx="2318" cy="210" rx="22" ry="55" fill="#f0e040"/><ellipse cx="2255" cy="240" rx="20" ry="20" fill="#50d0e8"/><ellipse cx="2380" cy="170" rx="18" ry="30" fill="#70e090"/><ellipse cx="2350" cy="270" rx="30" ry="12" fill="#f070d0"/></g>
<rect x="2446" y="120" width="173" height="170" fill="url(#pc)"/>
<g opacity="0.35"><path d="M2450,200 l40,-40 l20,20 l-40,40z" fill="#f0e040"/><path d="M2520,150 l40,40 l-20,20 l-40,-40z" fill="#60d0f0"/><path d="M2540,250 l40,-40 l20,20 l-40,40z" fill="#f0e040"/><path d="M2470,270 l30,-30 l20,20 l-30,30z" fill="#e878e0"/></g>
<rect x="2190" y="120" width="8" height="170" fill="url(#cbar)"/>
<rect x="2406" y="120" width="8" height="170" fill="url(#cbar)"/>
<rect x="2622" y="120" width="8" height="170" fill="url(#cbar)"/>
<g font-family="Liberation Serif" font-size="15" text-anchor="middle">
<text x="2194" y="117">2<tspan font-style="italic">π</tspan></text><text x="2410" y="117">2<tspan font-style="italic">π</tspan></text><text x="2626" y="117">2<tspan font-style="italic">π</tspan></text>
<text x="2194" y="310">0</text><text x="2410" y="310">0</text><text x="2626" y="310">0</text>
</g>
<g id="sq3d"></g>
</g>

<!-- Fig 2 -->
<g id="fig2">
<rect x="2009" y="577" width="237" height="166" fill="#fff" stroke="#222" stroke-width="1"/>
<text x="1984" y="648" font-family="Liberation Serif" font-size="20" font-style="italic" text-anchor="middle">ε'</text>
<text x="2130" y="766" font-family="Liberation Serif" font-size="13" font-style="italic" text-anchor="middle">T</text>
<g id="f2axes"></g>
<g id="f2data"></g>
<g id="f2legend"></g>
</g>

<!-- Fig 4 -->
<g>
<path d="M2944,167 L3001,152 Q3012,210 3023,249 L2944,249 Z" fill="url(#gOr)"/>
<path d="M3001,152 L3109,122 Q3085,180 3079,249 L3023,249 Q3012,210 3001,152 Z" fill="url(#gBl)"/>
<path d="M3109,122 L3164,107 L3164,249 L3079,249 Q3085,180 3109,122 Z" fill="url(#gGr)"/>
<path d="M3001,152 Q3012,210 3023,249" fill="none" stroke="#222" stroke-width="1.2"/>
<path d="M3109,122 Q3085,180 3079,249" fill="none" stroke="#222" stroke-width="1.2"/>
<line x1="2944" y1="167" x2="3164" y2="107" stroke="#111" stroke-width="2"/>
<line x1="2944" y1="249" x2="3164" y2="249" stroke="#111" stroke-width="2"/>
<line x1="2944" y1="249" x2="2944" y2="92" stroke="#111" stroke-width="2"/>
<path d="M2944,85 L2939,100 L2949,100 Z" fill="#111"/>
<text x="2989" y="124" font-size="26" text-anchor="middle">Para</text>
<text x="2921" y="163" font-family="Liberation Serif" font-size="26" font-style="italic" text-anchor="middle">T</text>
<text x="2977" y="183" font-size="16" text-anchor="middle">Relaxor</text>
<text x="2977" y="198" font-size="16" text-anchor="middle">Ferro</text>
<text x="3051" y="182" font-size="25" text-anchor="middle">Ferro</text>
<text x="3131" y="174" font-size="25" text-anchor="middle">C-AF</text>
<rect x="2958" y="202" width="42" height="41" fill="#fff" stroke="#444"/>
<rect x="3031" y="202" width="42" height="41" fill="#fff" stroke="#444"/>
<rect x="3104" y="202" width="41" height="41" fill="#fff" stroke="#444"/>
<g fill="none" stroke-width="3.2" stroke-linecap="round">
<g stroke="#e8642a"><path d="M2971,210 A14,14 0 0 0 2966,219"/><path d="M2987,210 A14,14 0 0 1 2992,219"/><path d="M2966,226 A14,14 0 0 0 2971,235"/><path d="M2992,226 A14,14 0 0 1 2987,235"/></g>
<circle cx="3052" cy="222.5" r="13" stroke="#1f7a32" stroke-dasharray="7,4"/>
<circle cx="3052" cy="222.5" r="13" stroke="#e8642a" stroke-dasharray="4,7" stroke-dashoffset="-7"/>
<g stroke="#1f7a32"><path d="M3120,209 h9"/><path d="M3120,236 h9"/><path d="M3111,218 v9"/><path d="M3138,218 v9"/></g>
</g>
<line x1="2944" y1="267" x2="2977" y2="267" stroke="#111" stroke-width="1.2"/><path d="M2943,267 l6,-3 l0,6z" fill="#111"/>
<text x="2972" y="292" font-family="Liberation Serif" font-size="22" text-anchor="middle">λ</text>
<line x1="3134" y1="267" x2="3166" y2="267" stroke="#111" stroke-width="1.2"/><path d="M3168,267 l-6,-3 l0,6z" fill="#111"/>
<text x="3140" y="290" font-family="Liberation Serif" font-size="20" font-style="italic" text-anchor="middle">μ<tspan font-size="13" dy="4">B</tspan></text>
</g>
</svg>

<script>
// ===== Figure 1(b) data =====
const muB = [0, 1];
const eFerro = [-0.81, -2.24];
const eCAF = [0.24, -2.58];
const eDAF = [-0.89, -0.89];
const f1xTicks = [0, 0.5, 1];
const f1xTickLabels = ['0', '0.5', '1'];
const f1yTicks = [0, -1, -2];
const f1yTickLabels = ['0', '-1', '-2'];

// ===== Figure 2 data (T, epsilon') =====
const lambdaLabels = ['λ=8', 'λ=7', 'λ=6', 'λ=5', 'λ=4', 'λ=3', 'λ=2', 'λ=1', 'λ=0'];
const T8 = [0.11,0.13,0.15,0.17,0.19,0.2,0.22,0.24,0.27,0.3,0.34,0.38,0.43,0.48,0.53,0.58];
const E8 = [0.013,0.02,0.03,0.042,0.056,0.064,0.058,0.048,0.038,0.03,0.023,0.018,0.014,0.011,0.009,0.008];
const T7 = [0.21,0.23,0.25,0.27,0.29,0.31,0.33,0.35,0.38,0.42,0.46,0.5,0.55,0.6,0.65,0.7];
const E7 = [0.012,0.02,0.032,0.048,0.065,0.082,0.077,0.064,0.05,0.038,0.028,0.022,0.016,0.012,0.01,0.008];
const T6 = [0.32,0.34,0.36,0.38,0.4,0.42,0.43,0.45,0.48,0.51,0.55,0.6,0.65,0.7,0.75,0.8];
const E6 = [0.012,0.02,0.032,0.05,0.07,0.09,0.096,0.082,0.065,0.05,0.037,0.027,0.02,0.015,0.012,0.009];
const T5 = [0.4,0.43,0.46,0.49,0.52,0.54,0.56,0.59,0.62,0.66,0.7,0.75,0.8,0.86,0.93];
const E5 = [0.012,0.022,0.035,0.055,0.078,0.093,0.088,0.072,0.058,0.045,0.035,0.026,0.02,0.014,0.01];
const T4 = [0.48,0.51,0.54,0.57,0.6,0.62,0.64,0.67,0.7,0.74,0.78,0.83,0.88,0.94,1.0];
const E4 = [0.012,0.02,0.032,0.045,0.062,0.072,0.077,0.068,0.056,0.045,0.036,0.028,0.021,0.016,0.012];
const T3 = [0.58,0.62,0.66,0.7,0.73,0.75,0.78,0.82,0.87,0.92,0.98,1.05,1.12,1.2,1.3];
const E3 = [0.012,0.018,0.027,0.037,0.043,0.046,0.044,0.038,0.031,0.026,0.021,0.017,0.014,0.012,0.01];
const T2 = [0.7,0.76,0.82,0.87,0.92,0.95,1.0,1.05,1.1,1.18,1.26,1.34,1.42,1.5];
const E2 = [0.01,0.013,0.016,0.019,0.021,0.022,0.021,0.02,0.019,0.017,0.015,0.013,0.011,0.009];
const T1 = [0.9,0.95,1.0,1.05,1.1,1.15,1.2,1.25,1.3,1.35,1.4,1.45,1.5];
const E1 = [0.009,0.011,0.013,0.014,0.015,0.015,0.015,0.014,0.013,0.012,0.011,0.01,0.009];
const T0 = [0.9,0.94,0.98,1.02,1.06,1.1,1.14,1.18,1.22];
const E0 = [0.009,0.008,0.007,0.006,0.006,0.005,0.005,0.005,0.005];
const f2xTicks = [0, 0.5, 1, 1.5];
const f2xTickLabels = ['0', '0.5', '1', '1.5'];
const f2yTicks = [0, 0.05, 0.1];
const f2yTickLabels = ['0', '0.05', '0.1'];

// ===== Figure 1(a) lattice sizes (0 = A-site) =====
const latticeSizes = [[4.6,0,2.6,0],[0,1.4,0,4.2],[2.8,0,2.4,0],[0,4.4,0,2.4]];

const NS = 'http://www.w3.org/2000/svg';
function mk(parent, tag, attrs){ const e = document.createElementNS(NS, tag); for (const k in attrs) e.setAttribute(k, attrs[k]); parent.appendChild(e); return e; }

// lattice
(function(){
  const g = document.getElementById('lattice');
  const cx0 = 1124, cy0 = 97, step = 33;
  latticeSizes.forEach((row, r) => row.forEach((s, c) => {
    const el = mk(g, 'circle', {cx: cx0 + c*step, cy: cy0 + r*32.3, r: s === 0 ? 5.5 : s, fill: s === 0 ? '#0f4c9c' : '#e8642a'});
    
    
  }));
  const fa = document.getElementById('ferroArrows');
  const ca = document.getElementById('cafArrows');
  for (let r = 0; r < 3; r++) for (let c = 0; c < 3; c++) {
    const y = 251 + r*16, x = 1181 + c*16;
    mk(fa, 'line', {x1: x, y1: y, x2: x+9, y2: y, 'marker-end': 'url(#arrB)'});
    const xc = 1250 + c*16;
    if (r === 1) mk(ca, 'line', {x1: xc, y1: y, x2: xc+9, y2: y, 'marker-end': 'url(#arrG)'});
    else mk(ca, 'line', {x1: xc+11, y1: y, x2: xc+2, y2: y, 'marker-end': 'url(#arrG)'});
  }
})();

// Figure 1(b)
(function(){
  const g = document.getElementById('f1plot');
  const xMu = m => 1083 + m*241;
  const yEn = e => 321 - e*55;
  for (let i = 0; i <= 20; i++) {
    const x = 1083 + i*241/20, len = i % 5 === 0 ? 5 : 3;
    mk(g, 'line', {x1: x, y1: 469, x2: x, y2: 469-len, stroke: '#222', 'stroke-width': 0.8});
    mk(g, 'line', {x1: x, y1: 298, x2: x, y2: 298+len, stroke: '#222', 'stroke-width': 0.8});
  }
  f1xTicks.forEach((t, i) => {
    const tx = mk(g, 'text', {x: xMu(t), y: 484, 'font-size': 12, 'text-anchor': 'middle'});
    tx.textContent = f1xTickLabels[i];
    
    
  });
  f1yTicks.forEach((t, i) => {
    mk(g, 'line', {x1: 1083, y1: yEn(t), x2: 1088, y2: yEn(t), stroke: '#222', 'stroke-width': 0.8});
    mk(g, 'line', {x1: 1324, y1: yEn(t), x2: 1319, y2: yEn(t), stroke: '#222', 'stroke-width': 0.8});
    const tx = mk(g, 'text', {x: 1080, y: yEn(t)+4, 'font-size': 12, 'text-anchor': 'end'});
    tx.textContent = f1yTickLabels[i];
    
    
  });
  const line = (ys, stroke, dash, name) => {
    const el = mk(g, 'line', {x1: xMu(muB[0]), y1: yEn(ys[0]), x2: xMu(muB[1]), y2: yEn(ys[1]), stroke: stroke, 'stroke-width': 1.6});
    if (dash) el.setAttribute('stroke-dasharray', dash);
    
    
  };
  line(eDAF, '#d02020', '1,1.5', 'daf-energy-line');
  line(eCAF, '#1f7a32', '4,2', 'caf-energy-line');
  line(eFerro, '#2a7ad8', null, 'ferro-energy-line');
})();

// Figure 3 structure factor plots
(function(){
  const g = document.getElementById('sq3d');
  const offs = [0, 216, 432];
  offs.forEach((o, k) => {
    const L = [2012+o, 401], B = [2078+o, 370], R = [2185+o, 387], F = [2120+o, 420];
    mk(g, 'polygon', {points: [L,B,R,F].map(p => p.join(',')).join(' '), fill: '#7a10f8'});
    mk(g, 'line', {x1: L[0], y1: L[1], x2: L[0], y2: 344, stroke: '#888', 'stroke-width': 0.8});
    mk(g, 'line', {x1: L[0], y1: L[1]+3, x2: F[0], y2: F[1]+3, stroke: '#111', 'stroke-width': 1});
    mk(g, 'line', {x1: F[0]+4, y1: F[1]+3, x2: R[0]+4, y2: R[1]+3, stroke: '#111', 'stroke-width': 1});
    const lab = (x, y, t, it, fs) => { const e = mk(g, 'text', {x: x+o, y: y, 'font-family': 'Liberation Serif', 'font-size': fs || 14, 'font-style': it ? 'italic' : 'normal', 'text-anchor': 'middle'}); e.textContent = t; return e; };
    lab(2005, 418, '0'); lab(2040, 423, '1'); lab(2075, 430, '2'); lab(2109, 434, '3');
    lab(2132, 431, '0'); lab(2163, 416, '3'); lab(2195, 401, '6');
    lab(2059, 442, 'qx', true, 18); lab(2155, 434, 'qy', true, 18);
    const s = lab(2044, 337, 'S(qx, qy)', true, 20);
    
    
  });
  mk(g, 'line', {x1: 2122, y1: 362, x2: 2122, y2: 415, stroke: '#e01010', 'stroke-width': 2.5});
  mk(g, 'line', {x1: 2229, y1: 345, x2: 2229, y2: 400, stroke: '#e01010', 'stroke-width': 2});
  mk(g, 'path', {d: 'M2229,400 l4,-20 l3,20 z', fill: '#40c0f0'});
  mk(g, 'path', {d: 'M2284,372 l3,-20 l3,20 z', fill: '#40c0f0'});
  mk(g, 'path', {d: 'M2333,405 l3,-14 l3,14 z', fill: '#40c0f0'});
  mk(g, 'line', {x1: 2445, y1: 345, x2: 2445, y2: 400, stroke: '#e01010', 'stroke-width': 2});
  mk(g, 'path', {d: 'M2446,402 l5,-20 l4,12 l4,-10 l4,18 l20,2 l-20,6 z', fill: '#30d0b0', opacity: 0.85});
  mk(g, 'path', {d: 'M2490,372 l4,-10 l4,6 l3,-12 l4,14 l4,-8 l5,10 z', fill: '#50e0a0', opacity: 0.9});
  mk(g, 'path', {d: 'M2540,400 l4,-14 l3,8 l3,-14 l4,20 l4,-6 l3,8 z', fill: '#40d0c0', opacity: 0.9});
  mk(g, 'path', {d: 'M2470,408 q40,10 80,0 l0,6 q-40,8 -80,-2z', fill: '#4070f8', opacity: 0.7});
})();

// Figure 2
(function(){
  const xT = t => 2009 + t/1.5*237;
  const yE = e => 743 - e/0.1*151;
  const ax = document.getElementById('f2axes');
  for (let i = 0; i <= 15; i++) {
    const x = xT(i*0.1), len = i % 5 === 0 ? 5 : 3;
    mk(ax, 'line', {x1: x, y1: 743, x2: x, y2: 743-len, stroke: '#222', 'stroke-width': 0.8});
    mk(ax, 'line', {x1: x, y1: 577, x2: x, y2: 577+len, stroke: '#222', 'stroke-width': 0.8});
  }
  for (let i = 0; i <= 10; i++) {
    const y = yE(i*0.01), len = i % 5 === 0 ? 5 : 3;
    mk(ax, 'line', {x1: 2009, y1: y, x2: 2009+len, y2: y, stroke: '#222', 'stroke-width': 0.8});
    mk(ax, 'line', {x1: 2246, y1: y, x2: 2246-len, y2: y, stroke: '#222', 'stroke-width': 0.8});
  }
  f2xTicks.forEach((t, i) => {
    const tx = mk(ax, 'text', {x: xT(t), y: 756, 'font-size': 11, 'text-anchor': 'middle'});
    tx.textContent = f2xTickLabels[i];
    
    
  });
  f2yTicks.forEach((t, i) => {
    const tx = mk(ax, 'text', {x: 2006, y: yE(t)+4, 'font-size': 11, 'text-anchor': 'end'});
    tx.textContent = f2yTickLabels[i];
    
    
  });
  const seriesT = [T8, T7, T6, T5, T4, T3, T2, T1, T0];
  const seriesE = [E8, E7, E6, E5, E4, E3, E2, E1, E0];
  const colors = ['#3a0f8c', '#7a1fa2', '#c00010', '#f05a10', '#f7a000', '#9acd32', '#1a8a3a', '#108a8a', '#1e90ff'];
  const dg = document.getElementById('f2data');
  const lg = document.getElementById('f2legend');
  seriesT.forEach((ts, s) => {
    const sg = mk(dg, 'g', {fill: colors[s]});
    
    
    ts.forEach((t, i) => {
      const c = mk(sg, 'circle', {cx: xT(t), cy: yE(seriesE[s][i]), r: 1.7});
      
      
      if (i < ts.length - 1) {
        const t2 = ts[i+1], e1 = seriesE[s][i], e2 = seriesE[s][i+1];
        const mid = mk(sg, 'circle', {cx: (xT(t)+xT(t2))/2, cy: (yE(e1)+yE(e2))/2, r: 1.4});
        
        
      }
    });
    const y = 590 + s*13.25;
    const d = mk(lg, 'circle', {cx: 2183, cy: y, r: 3.8, fill: colors[s]});
    
    
    const tx = mk(lg, 'text', {x: 2190, y: y+4, 'font-size': 11});
    tx.textContent = lambdaLabels[s];
    
    
  });
})();
</script>
</body></html>
